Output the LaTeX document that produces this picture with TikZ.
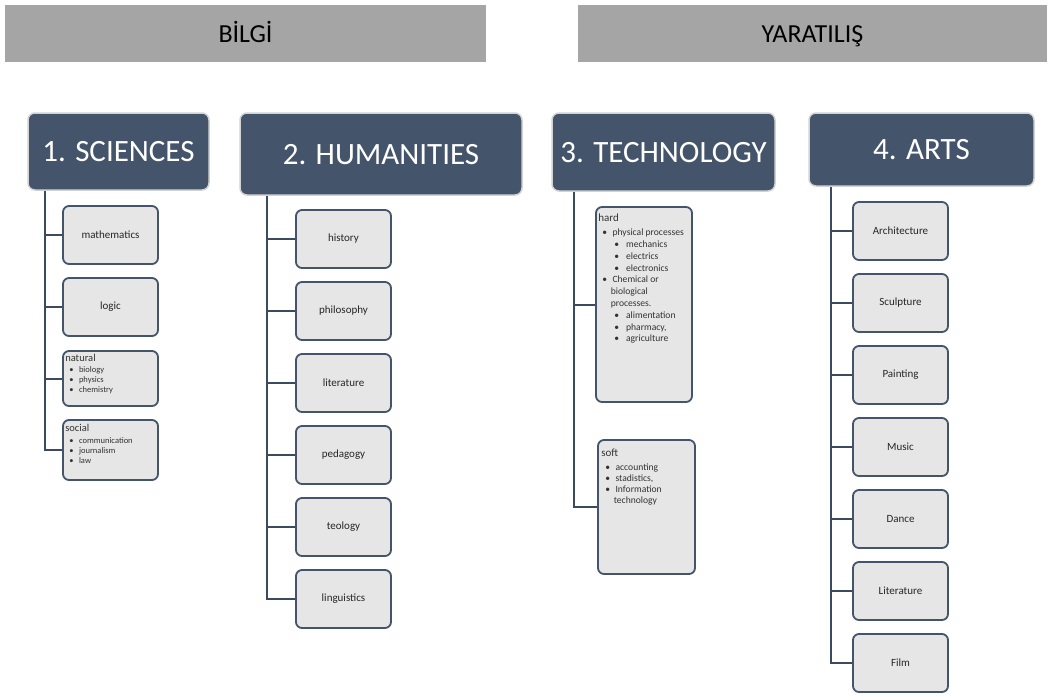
\documentclass[tikz,border=0pt]{standalone}
\usepackage{fontspec}
\setmainfont{Carlito}
\definecolor{slate}{HTML}{44546A}
\definecolor{bargray}{HTML}{A5A5A5}
\definecolor{boxgray}{HTML}{E6E6E6}
\definecolor{linkcol}{HTML}{3B4A5E}
\newcommand{\lbul}{\hspace*{4pt}\textbullet\hspace{5.5pt}}
\newcommand{\lsub}{\hspace*{16pt}\textbullet\hspace{7pt}}
\tikzset{
  bar/.style={fill=bargray, inner sep=0, minimum height=57, text height=17pt, text depth=0pt, font=\fontsize{26}{30}\selectfont},
  head/.style={fill=slate, draw=gray!35, line width=1.5pt, rounded corners=7pt, text=white, inner sep=0, text height=20pt, text depth=0pt, font=\fontsize{31}{36}\selectfont},
  leaf/.style={fill=boxgray, draw=slate, line width=1.8pt, rounded corners=6pt, inner sep=0, minimum width=95, minimum height=58, text=black!85, font=\fontsize{11}{13}\selectfont},
  listtxt/.style={anchor=north west, align=left, inner sep=0, text=black!80, font=\fontsize{8.5}{10}\selectfont},
  link/.style={draw=linkcol, line width=2pt}
}
\begin{document}
\begin{tikzpicture}[x=1pt, y=-1pt]
  \useasboundingbox (0,0) rectangle (1050,697);

  \node[bar, minimum width=481] (bilgi) at (245.5,33.5) {BİLGİ};
  \node[bar, minimum width=469] (yaratilis) at (812.5,33.5) {YARATILIŞ};

  \coordinate (sciencesroot) at (45,190);
  \coordinate (humanitiesroot) at (267,195);
  \coordinate (technologyroot) at (574,191);
  \coordinate (artsroot) at (831,186);

  \node[leaf] (mathematics) at (110.5,235) {mathematics};
  \node[leaf] (logic) at (110.5,307) {logic};
  \node[leaf, minimum height=55] (natural) at (110.5,378.5) {};
  \node[leaf, minimum height=60] (social) at (110.5,450) {};
  \node[listtxt] (naturallist) at ([shift={(3,4)}]natural.north west)
    {{\fontsize{10.5}{12}\selectfont natural}\\[1pt]
     \lbul biology\\ \lbul physics\\ \lbul chemistry};
  \node[listtxt] (sociallist) at ([shift={(3,5)}]social.north west)
    {{\fontsize{10.5}{12}\selectfont social}\\[2pt]
     \lbul communication\\ \lbul journalism\\ \lbul law};

  \node[leaf] (history) at (343.5,239) {history};
  \node[leaf] (philosophy) at (343.5,311) {philosophy};
  \node[leaf] (literature) at (343.5,383) {literature};
  \node[leaf] (pedagogy) at (343.5,455) {pedagogy};
  \node[leaf] (teology) at (343.5,527) {teology};
  \node[leaf] (linguistics) at (343.5,599) {linguistics};

  \node[leaf, minimum width=96, minimum height=195] (hard) at (644,304.5) {};
  \node[leaf, minimum width=97, minimum height=134] (soft) at (646.5,507) {};
  \node[listtxt, font=\fontsize{9.6}{11.8}\selectfont] (hardlist) at ([shift={(3,8)}]hard.north west)
    {{\fontsize{11}{12}\selectfont hard}\\[2pt]
     \lbul physical processes\\
     \lsub mechanics\\
     \lsub electrics\\
     \lsub electronics\\
     \lbul Chemical or\\
     \hspace*{12.5pt}biological\\
     \hspace*{12.5pt}processes.\\
     \lsub alimentation\\
     \lsub pharmacy,\\
     \lsub agriculture};
  \node[listtxt, font=\fontsize{9.6}{11}\selectfont] (softlist) at ([shift={(4,10)}]soft.north west)
    {{\fontsize{11}{12}\selectfont soft}\\[3pt]
     \lbul accounting\\
     \lbul stadistics,\\
     \lbul Information\\
     \hspace*{12.5pt}technology};

  \node[leaf] (architecture) at (900.5,231) {Architecture};
  \node[leaf] (sculpture) at (900.5,303) {Sculpture};
  \node[leaf] (painting) at (900.5,375) {Painting};
  \node[leaf] (music) at (900.5,447) {Music};
  \node[leaf] (dance) at (900.5,519) {Dance};
  \node[leaf] (artliterature) at (900.5,591) {Literature};
  \node[leaf] (film) at (900.5,663) {Film};

  \draw[link] (sciencesroot) |- (mathematics) (sciencesroot) |- (logic)
    (sciencesroot) |- (natural) (sciencesroot) |- (social);
  \draw[link] (humanitiesroot) |- (history) (humanitiesroot) |- (philosophy)
    (humanitiesroot) |- (literature) (humanitiesroot) |- (pedagogy)
    (humanitiesroot) |- (teology) (humanitiesroot) |- (linguistics);
  \draw[link] (technologyroot) |- (hard) (technologyroot) |- (soft);
  \draw[link] (artsroot) |- (architecture) (artsroot) |- (sculpture)
    (artsroot) |- (painting) (artsroot) |- (music) (artsroot) |- (dance)
    (artsroot) |- (artliterature) (artsroot) |- (film);

  \node[head, minimum width=181, minimum height=77] (sciences) at (118.5,151.5) {1. SCIENCES};
  \node[head, minimum width=282, minimum height=82] (humanities) at (381,154) {2. HUMANITIES};
  \node[head, minimum width=223, minimum height=78] (technology) at (663.5,152) {3. TECHNOLOGY};
  \node[head, minimum width=225, minimum height=73] (arts) at (921.5,149.5) {4. ARTS};
\end{tikzpicture}
\end{document}
